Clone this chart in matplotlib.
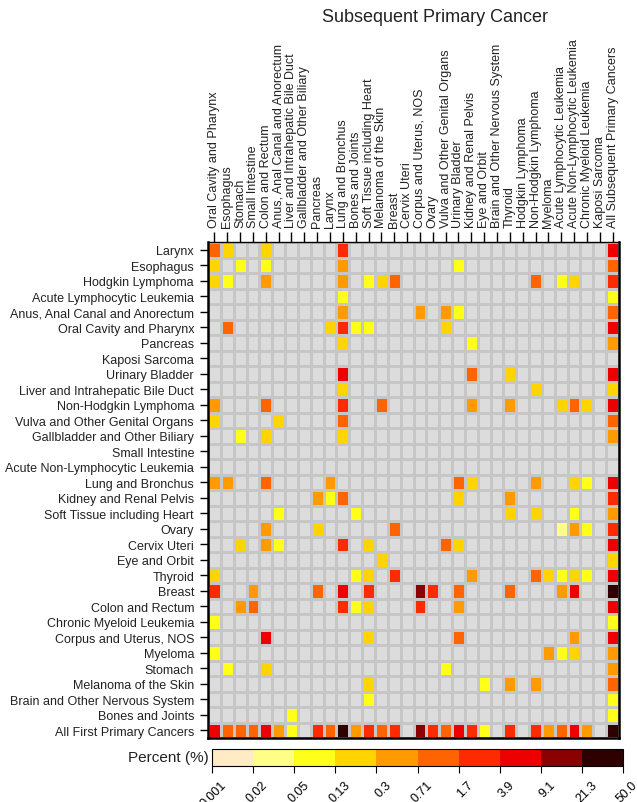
import numpy as np
import matplotlib
matplotlib.use("Agg")
import matplotlib.pyplot as plt
from matplotlib.colors import ListedColormap, BoundaryNorm
from matplotlib.cm import ScalarMappable
from matplotlib.transforms import ScaledTranslation

plt.rcParams['font.family'] = ['Liberation Sans', 'DejaVu Sans']

# subsequent primary cancer (columns)
col_labels = [
    "Oral Cavity and Pharynx", "Esophagus", "Stomach", "Small Intestine",
    "Colon and Rectum", "Anus, Anal Canal and Anorectum",
    "Liver and Intrahepatic Bile Duct", "Gallbladder and Other Biliary",
    "Pancreas", "Larynx", "Lung and Bronchus", "Bones and Joints",
    "Soft Tissue including Heart", "Melanoma of the Skin", "Breast",
    "Cervix Uteri", "Corpus and Uterus, NOS", "Ovary",
    "Vulva and Other Genital Organs", "Urinary Bladder",
    "Kidney and Renal Pelvis", "Eye and Orbit",
    "Brain and Other Nervous System", "Thyroid", "Hodgkin Lymphoma",
    "Non-Hodgkin Lymphoma", "Myeloma", "Acute Lymphocytic Leukemia",
    "Acute Non-Lymphocytic Leukemia", "Chronic Myeloid Leukemia",
    "Kaposi Sarcoma", "All Subsequent Primary Cancers",
]

# first primary cancer (rows, top to bottom)
row_labels = [
    "Larynx", "Esophagus", "Hodgkin Lymphoma", "Acute Lymphocytic Leukemia",
    "Anus, Anal Canal and Anorectum", "Oral Cavity and Pharynx", "Pancreas",
    "Kaposi Sarcoma", "Urinary Bladder", "Liver and Intrahepatic Bile Duct",
    "Non-Hodgkin Lymphoma", "Vulva and Other Genital Organs",
    "Gallbladder and Other Biliary", "Small Intestine",
    "Acute Non-Lymphocytic Leukemia", "Lung and Bronchus",
    "Kidney and Renal Pelvis", "Soft Tissue including Heart", "Ovary",
    "Cervix Uteri", "Eye and Orbit", "Thyroid", "Breast", "Colon and Rectum",
    "Chronic Myeloid Leukemia", "Corpus and Uterus, NOS", "Myeloma",
    "Stomach", "Melanoma of the Skin", "Brain and Other Nervous System",
    "Bones and Joints", "All First Primary Cancers",
]

breaks = ["0.001", "0.02", "0.05", "0.13", "0.3", "0.71", "1.7", "3.9",
          "9.1", "21.3", "50.0"]
bin_colors = ["#FFEBC4", "#FFFF88", "#FFFF1A", "#FFD400", "#FF9A00",
              "#FF6400", "#FF2A00", "#EE0000", "#8B0000", "#2E0000"]

# percent bin of each cell (1..10 = bin between breaks, 0 = no data)
levels = [
    [6,4,0,0,4,0,0,0,0,0,7,0,0,0,0,0,0,0,0,0,0,0,0,0,0,0,0,0,0,0,0,8],
    [4,0,3,0,3,0,0,0,0,0,5,0,0,0,0,0,0,0,0,3,0,0,0,0,0,0,0,0,0,0,0,6],
    [4,3,0,0,5,0,0,0,0,0,5,0,3,4,6,0,0,0,0,0,0,0,0,0,0,6,0,3,4,0,0,7],
    [0,0,0,0,0,0,0,0,0,0,3,0,0,0,0,0,0,0,0,0,0,0,0,0,0,0,0,0,0,0,0,3],
    [0,0,0,0,0,0,0,0,0,0,5,0,0,0,0,0,5,0,5,3,0,0,0,0,0,0,0,0,0,0,0,6],
    [0,6,0,0,0,0,0,0,0,4,7,3,3,0,0,0,0,0,4,0,0,0,0,0,0,0,0,0,0,0,0,8],
    [0,0,0,0,0,0,0,0,0,0,4,0,0,0,0,0,0,0,0,0,3,0,0,0,0,0,0,0,0,0,0,5],
    [0,0,0,0,0,0,0,0,0,0,0,0,0,0,0,0,0,0,0,0,0,0,0,0,0,0,0,0,0,0,0,0],
    [0,0,0,0,0,0,0,0,0,0,8,0,0,0,0,0,0,0,0,0,6,0,0,4,0,0,0,0,0,0,0,8],
    [0,0,0,0,0,0,0,0,0,0,4,0,0,0,0,0,0,0,0,0,0,0,0,0,0,4,0,0,0,0,0,4],
    [5,0,0,0,6,0,0,0,0,0,7,0,0,6,0,0,0,0,0,0,5,0,0,5,0,0,0,4,6,4,0,8],
    [4,0,0,0,0,4,0,0,0,0,6,0,0,0,0,0,0,0,0,0,0,0,0,0,0,0,0,0,0,0,0,6],
    [0,0,3,0,4,0,0,0,0,0,4,0,0,0,0,0,0,0,0,0,0,0,0,0,0,0,0,0,0,0,0,5],
    [0,0,0,0,0,0,0,0,0,0,0,0,0,0,0,0,0,0,0,0,0,0,0,0,0,0,0,0,0,0,0,0],
    [0,0,0,0,0,0,0,0,0,0,0,0,0,0,0,0,0,0,0,0,0,0,0,0,0,0,0,0,0,0,0,0],
    [5,5,0,0,6,0,0,0,0,5,0,0,0,0,0,0,0,0,0,6,4,0,0,0,0,5,0,0,4,3,0,8],
    [0,0,0,0,0,0,0,0,5,3,6,0,0,0,0,0,0,0,0,4,0,0,0,5,0,0,0,0,0,0,0,7],
    [0,0,0,0,0,3,0,0,0,0,0,3,0,0,0,0,0,0,0,0,0,0,0,4,0,4,0,0,3,0,0,5],
    [0,0,0,0,5,0,0,0,4,0,0,0,0,0,6,0,0,0,0,0,0,0,0,0,0,0,0,2,5,3,0,7],
    [0,0,4,0,5,3,0,0,0,0,7,0,4,0,0,0,0,0,6,4,0,0,0,0,0,0,0,0,0,0,0,8],
    [0,0,0,0,0,0,0,0,0,0,0,0,0,4,0,0,0,0,0,0,0,0,0,0,0,0,0,0,0,0,0,4],
    [4,0,0,0,0,0,0,0,0,0,0,3,4,0,7,0,0,0,0,0,5,0,0,0,0,6,4,3,4,3,0,8],
    [7,0,0,5,0,0,0,0,6,0,8,0,7,0,0,0,9,7,0,6,0,0,0,6,0,0,0,5,8,0,0,10],
    [0,0,5,6,0,0,0,0,0,0,7,3,4,0,0,0,7,0,0,5,0,0,0,0,0,0,0,0,0,0,0,8],
    [3,0,0,0,0,0,0,0,0,0,0,0,0,0,0,0,0,0,0,0,0,0,0,0,0,0,0,0,0,0,0,3],
    [0,0,0,0,8,0,0,0,0,0,0,0,4,0,0,0,0,0,0,6,0,0,0,0,0,0,0,0,5,0,0,8],
    [3,0,0,0,0,0,0,0,0,0,0,0,0,0,0,0,0,0,0,0,0,0,0,0,0,0,5,3,4,0,0,5],
    [0,3,0,0,4,0,0,0,0,0,0,0,0,0,0,0,0,0,3,0,0,0,0,0,0,0,0,0,0,0,0,5],
    [0,0,0,0,0,0,0,0,0,0,0,0,4,0,0,0,0,0,0,0,0,3,0,5,0,5,0,0,0,0,0,6],
    [0,0,0,0,0,0,0,0,0,0,0,0,3,0,0,0,0,0,0,0,0,0,0,0,0,0,0,0,0,0,0,3],
    [0,0,0,0,0,0,3,0,0,0,0,0,0,0,0,0,0,0,0,0,0,0,0,0,0,0,0,0,0,0,0,3],
    [8,6,6,6,8,5,3,0,7,6,10,5,7,6,7,0,9,7,6,8,7,3,0,7,0,7,5,6,8,5,0,10],
]

W, H = 637, 803
fig = plt.figure(figsize=(W / 100, H / 100), dpi=100)

# heatmap
ax = fig.add_axes([208 / W, 1 - 739 / H, 411 / W, 496 / H])
cmap = ListedColormap(bin_colors)
cmap.set_bad("#DCDCDC")
norm = BoundaryNorm(np.arange(0.5, 11.5), cmap.N)
data = np.ma.masked_equal(np.array(levels), 0)
ax.set_facecolor("#DCDCDC")
ax.pcolormesh(data, cmap=cmap, norm=norm, edgecolors="#C6C6C6", linewidth=1.0)
ax.set_xlim(0, len(col_labels))
ax.set_ylim(len(row_labels), 0)

ax.xaxis.tick_top()
ax.set_xticks(np.arange(len(col_labels)) + 0.5)
ax.set_xticklabels(col_labels, rotation=90, fontsize=9, color="#222222")
ax.set_yticks(np.arange(len(row_labels)) + 0.5)
ax.set_yticklabels(row_labels, fontsize=9, color="#222222")
ax.tick_params(axis="x", length=7, width=1, pad=4)
ax.tick_params(axis="y", length=6, width=1, pad=4)
for side in ["left", "bottom", "right"]:
    ax.spines[side].set_linewidth(1.8)
ax.spines["top"].set_linewidth(1.0)

fig.text(435 / W, 1 - 18 / H, "Subsequent Primary Cancer", ha="center",
         va="center", fontsize=13, color="#222222")

# legend bar
cax = fig.add_axes([212 / W, 1 - 767 / H, 411 / W, 17 / H])
sm = ScalarMappable(norm=BoundaryNorm(np.arange(len(breaks)), len(bin_colors)),
                    cmap=ListedColormap(bin_colors))
cb = fig.colorbar(sm, cax=cax, orientation="horizontal")
cb.set_ticks(np.arange(len(breaks)))
cb.set_ticklabels(breaks)
cb.outline.set_linewidth(0.8)
cax.tick_params(axis="x", length=5, width=0.8, labelsize=9, pad=7)
shift = ScaledTranslation(13 / 100, 0, fig.dpi_scale_trans)
for lab in cax.get_xticklabels():
    lab.set_rotation(45)
    lab.set_rotation_mode("anchor")
    lab.set_ha("right")
    lab.set_va("center")
    lab.set_transform(lab.get_transform() + shift)
cax.text(-0.008, 0.5, "Percent (%)", transform=cax.transAxes, ha="right",
         va="center", fontsize=11, color="#222222")

fig.savefig("out.png", dpi=100)
print("saved out.png")
